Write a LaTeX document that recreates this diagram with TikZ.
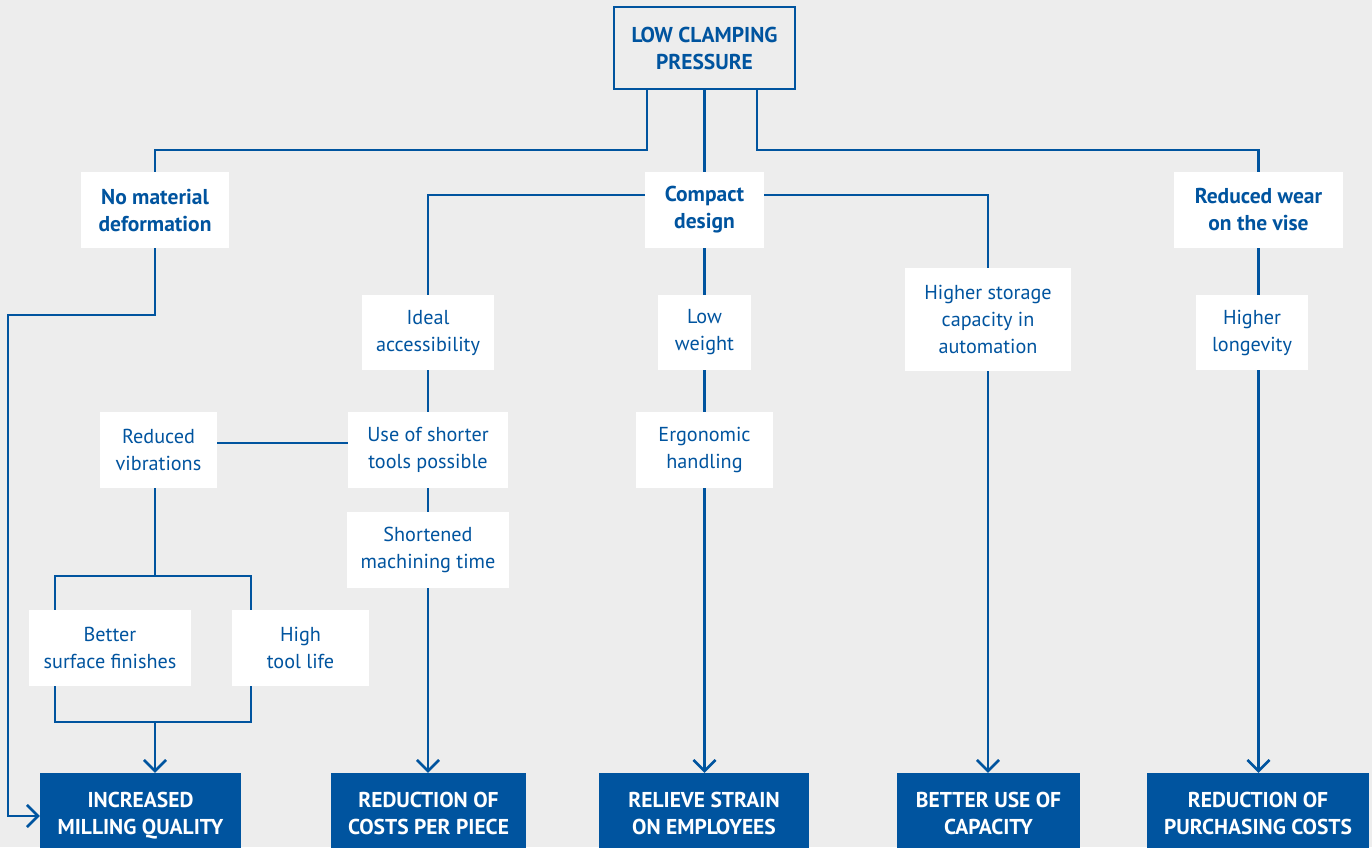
\documentclass[tikz,border=0pt]{standalone}
\usepackage{fontspec}
\setmainfont{PT Sans}
\usetikzlibrary{arrows.meta}
\definecolor{vblue}{RGB}{0,84,159}
\definecolor{bgc}{RGB}{237,237,237}
\begin{document}
\begin{tikzpicture}[x=1pt,y=-1pt,
  conn/.style={draw=vblue,line width=2.6pt},
  arr/.style={conn,-{Straight Barb[length=11pt,width=22pt]}},
  base/.style={align=center,inner sep=0pt,font=\fontsize{20.2}{27}\selectfont},
  wbox/.style={base,fill=white,text=vblue},
  bbox/.style={wbox,font=\fontsize{21.5}{27}\selectfont\bfseries},
  topbox/.style={base,draw=vblue,line width=2.6pt,text=vblue,font=\fontsize{21.5}{27}\selectfont\bfseries},
  outbox/.style={base,fill=vblue,text=white,minimum height=80pt,font=\fontsize{21.5}{27}\selectfont\bfseries}]
\useasboundingbox (0,0) rectangle (1372,847);
\fill[bgc] (0,0) rectangle (1372,847);

% nodes
\node[topbox,minimum width=181pt,minimum height=82pt] (top) at (704.5,48) {LOW CLAMPING\\PRESSURE};
\node[bbox,minimum width=148pt,minimum height=76pt] (nomat) at (155,210) {No material\\deformation};
\node[bbox,minimum width=119pt,minimum height=76pt] (compact) at (704.5,210) {Compact\\design};
\node[bbox,minimum width=169pt,minimum height=76pt] (wear) at (1258.5,210) {Reduced wear\\on the vise};

\node[wbox,minimum width=132pt,minimum height=75pt] (ideal) at (428,332.5) {Ideal\\accessibility};
\node[wbox,minimum width=160pt,minimum height=76pt] (shorter) at (428,450) {Use of shorter\\tools possible};
\node[wbox,minimum width=162pt,minimum height=76pt] (shortened) at (428,550) {Shortened\\machining time};
\node[wbox,minimum width=117pt,minimum height=76pt] (vib) at (158.5,450) {Reduced\\vibrations};
\node[wbox,minimum width=162pt,minimum height=76pt] (better) at (110,648) {Better\\surface finishes};
\node[wbox,minimum width=137pt,minimum height=76pt] (high) at (300.5,648) {High\\tool life};

\node[wbox,minimum width=93pt,minimum height=75pt] (low) at (704.5,332.5) {Low\\weight};
\node[wbox,minimum width=137pt,minimum height=76pt] (ergo) at (704.5,450) {Ergonomic\\handling};
\node[wbox,minimum width=166pt,minimum height=103pt] (storage) at (988,319.5) {Higher storage\\capacity in\\automation};
\node[wbox,minimum width=112pt,minimum height=75pt] (longev) at (1252,332.5) {Higher\\longevity};

\node[outbox,minimum width=201pt,minimum height=86pt] (inc) at (140.5,816) {INCREASED\\MILLING QUALITY};
\node[outbox,minimum width=195pt] (cpp) at (428.5,813) {REDUCTION OF\\COSTS PER PIECE};
\node[outbox,minimum width=210pt] (rel) at (704,813) {RELIEVE STRAIN\\ON EMPLOYEES};
\node[outbox,minimum width=183pt] (cap) at (988.5,813) {BETTER USE OF\\CAPACITY};
\node[outbox,minimum width=222pt] (pur) at (1258,813) {REDUCTION OF\\PURCHASING COSTS};

\coordinate (vsplit) at (155,576);
\coordinate (vjoin) at (155,722);

% connectors
\draw[conn] ([xshift=-57.5pt]top.south) |- ([yshift=22pt]nomat.north) -- (nomat.north);
\draw[conn] (top.south) -- (compact.north);
\draw[conn] ([xshift=52.5pt]top.south) |- ([yshift=22pt]wear.north) -- (wear.north);

\draw[arr] (nomat.south) |- (8,315) |- (inc.west);

\draw[conn] ([yshift=15pt]compact.west) -| (ideal.north);
\draw[conn] ([yshift=15pt]compact.east) -| (storage.north);
\draw[conn] (compact.south) -- (low.north);
\draw[conn] (low.south) -- (ergo.north);
\draw[arr] (ergo.south) -- (ergo.south |- rel.north);

\draw[conn] (ideal.south) -- (shorter.north);
\draw[conn] (shorter.south) -- (shortened.north);
\draw[arr] (shortened.south) -- (shortened.south |- cpp.north);
\draw[conn] ([yshift=7pt]shorter.west) -- ([yshift=7pt]vib.east);

\draw[conn] ([xshift=-3.5pt]vib.south) -- (vsplit);
\draw[conn] ([xshift=-55pt]better.north) |- (vsplit) -| ([xshift=-49.5pt]high.north);
\draw[conn] ([xshift=-55pt]better.south) |- (vjoin) -| ([xshift=-49.5pt]high.south);
\draw[arr] (vjoin) -- (vjoin |- inc.north);

\draw[arr] (storage.south) -- (storage.south |- cap.north);

\draw[conn] (wear.south) -- (wear.south |- longev.north);
\draw[arr] (wear.south |- longev.south) -- (wear.south |- pur.north);
\end{tikzpicture}
\end{document}
